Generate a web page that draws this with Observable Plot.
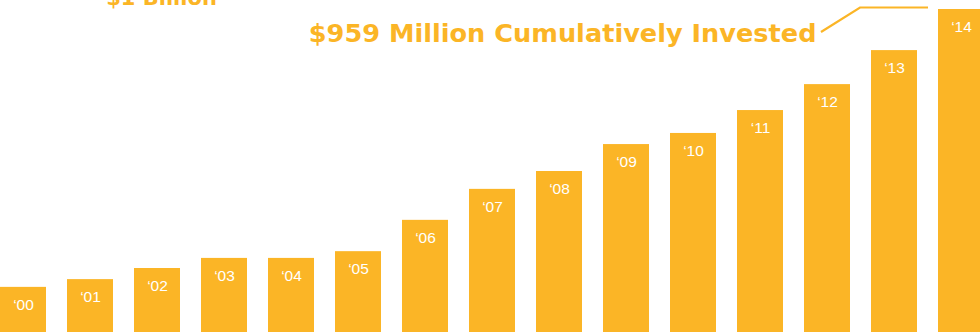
<!DOCTYPE html>
<html><head><meta charset="utf-8">
<script src="https://cdn.jsdelivr.net/npm/d3@7"></script>
<script src="https://cdn.jsdelivr.net/npm/@observablehq/plot@0.6"></script>
<style>html,body{margin:0;padding:0;background:#fff;overflow:hidden;width:980px;height:332px}</style>
</head><body><div id="chart"></div>
<script>
const years = ["‘00","‘01","‘02","‘03","‘04","‘05","‘06","‘07","‘08","‘09","‘10","‘11","‘12","‘13","‘14"];
const invested = [134,157,190,220,220,240,333,425,478,558,591,659,736,837,959];
const titleText = "$959 Million Cumulatively Invested";
const scaleLabel = "$1 Billion";
const scaleMax = 1000;

const ORANGE = "#FBB526";
const data = years.map((year, i) => ({year, value: invested[i]}));
const lastYear = years[years.length - 1];
const lastValue = invested[invested.length - 1];

// leader line from title to top of the last bar, positioned via the scales
function leader(index, scales) {
  const x0 = scales.x(lastYear);
  const yTop = scales.y(lastValue);
  const path = d3.create("svg:path")
    .attr("d", `M${x0 - 117},${yTop + 23}L${x0 - 78},${yTop - 1.5}L${x0 - 10},${yTop - 1.5}`)
    .attr("fill", "none")
    .attr("stroke", ORANGE)
    .attr("stroke-width", 2.2);
  return path.node();
}

const chart = Plot.plot({
  width: 980,
  height: 332,
  margin: 0,
  style: {background: "#fff"},
  x: {type: "band", domain: years, range: [0, 985], paddingInner: 0.313, paddingOuter: 0, align: 0, axis: null},
  y: {domain: [0, scaleMax], range: [332, -4.8], axis: null},
  marks: [
    Plot.barY(data, {x: "year", y: "value", fill: ORANGE}),
    Plot.text(data, {x: "year", y: "value", text: "year", fill: "white", dy: 22.5, lineAnchor: "bottom",
      fontSize: 15.5, fontFamily: "Liberation Sans, Arial, sans-serif"}),
    Plot.text([titleText], {x: [lastYear], y: [lastValue], text: d => d, textAnchor: "end", lineAnchor: "bottom",
      dx: -145, dy: 32, fill: ORANGE, fontSize: 25.6, fontWeight: "bold", fontFamily: "DejaVu Sans, sans-serif"}),
    Plot.text([scaleLabel], {x: [years[2]], y: [scaleMax], text: d => d, textAnchor: "middle", lineAnchor: "bottom",
      dx: 4, dy: 8.8, fill: ORANGE, fontSize: 21, fontWeight: "bold", fontFamily: "DejaVu Sans, sans-serif"}),
    leader
  ]
});
document.getElementById("chart").appendChild(chart);
</script>
</body></html>
